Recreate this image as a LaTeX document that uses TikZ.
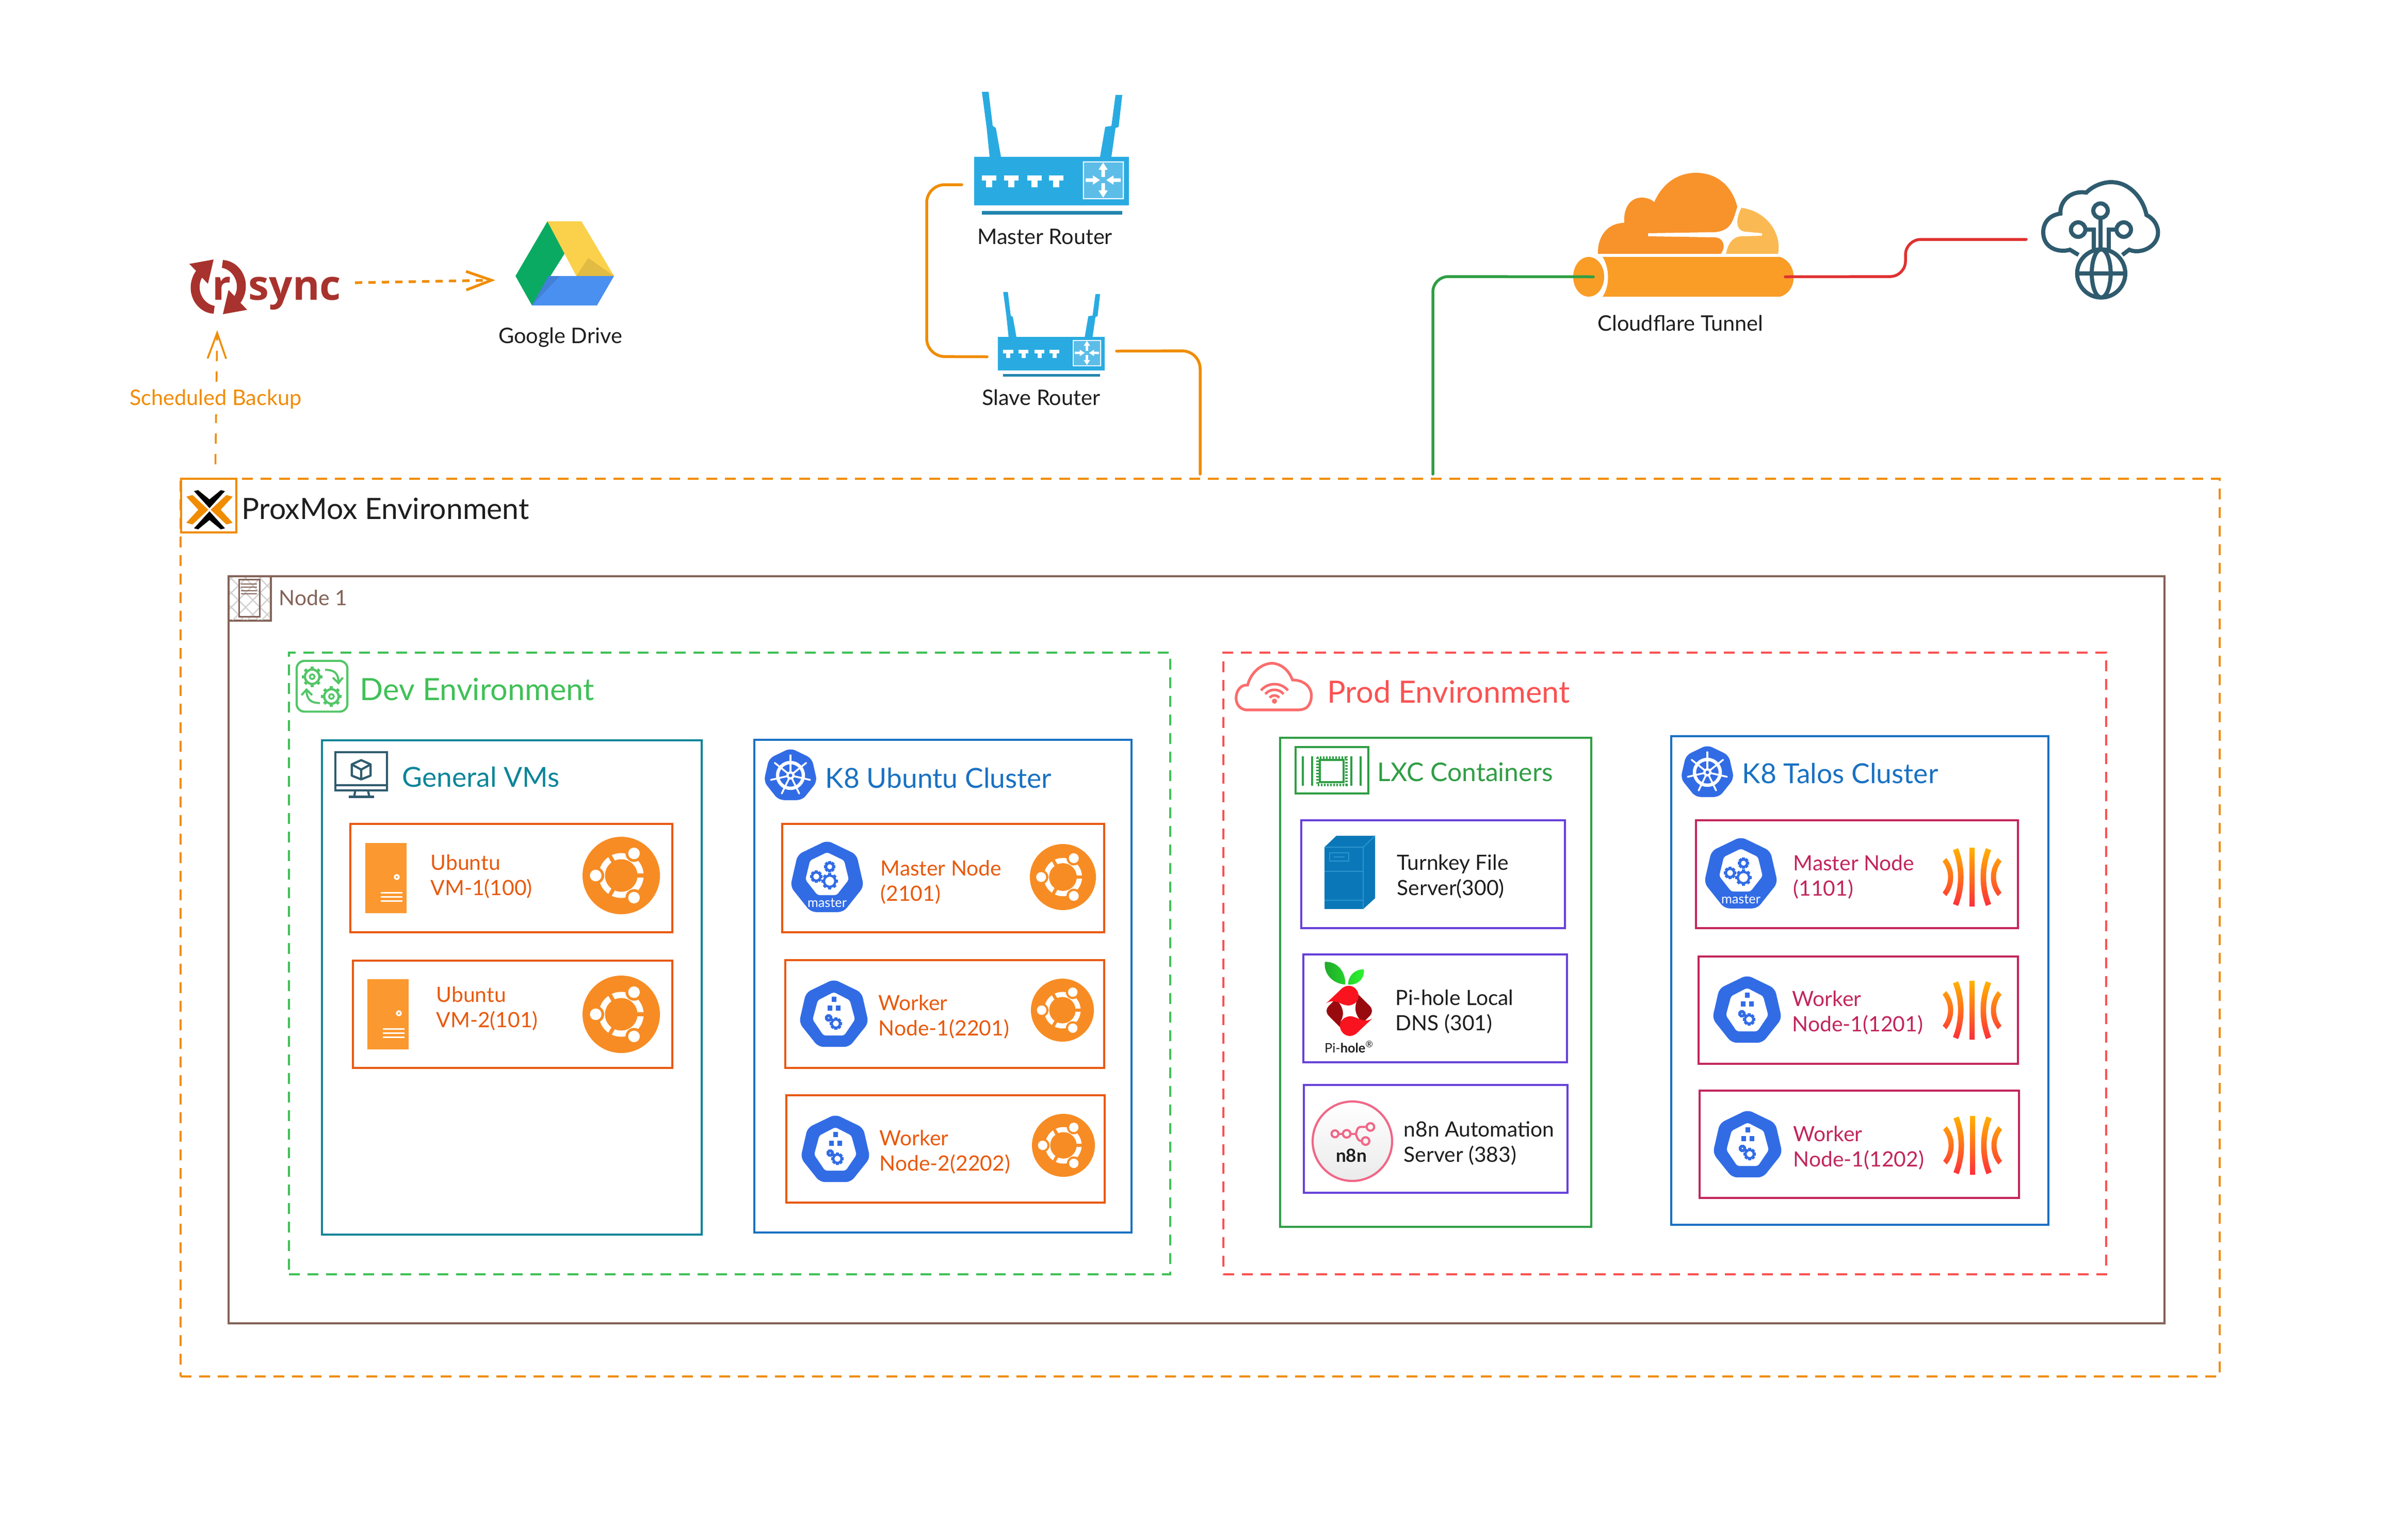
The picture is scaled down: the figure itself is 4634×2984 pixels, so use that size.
\documentclass[tikz,border=0pt]{standalone}
\usepackage{fontspec}
\setmainfont{Lato}
\newfontfamily\logofont{Open Sans}
\usetikzlibrary{arrows.meta,fit}

\definecolor{pveorange}{HTML}{F08C00}
\definecolor{nodebrown}{HTML}{846358}
\definecolor{devgreen}{HTML}{40C057}
\definecolor{prodred}{HTML}{FA5252}
\definecolor{vmteal}{HTML}{0C8599}
\definecolor{k8line}{HTML}{1971C2}
\definecolor{lxcgreen}{HTML}{2F9E44}
\definecolor{ubuline}{HTML}{E8590C}
\definecolor{lxcviolet}{HTML}{6741D9}
\definecolor{talospink}{HTML}{C2255C}
\definecolor{wirered}{HTML}{E03131}
\definecolor{inktext}{HTML}{1E1E1E}
\definecolor{ubuorange}{HTML}{F78C24}
\definecolor{serverorange}{HTML}{FB982F}
\definecolor{k8blue}{HTML}{326CE5}
\definecolor{routerblue}{HTML}{29ABE2}
\definecolor{routerdark}{HTML}{2185AE}
\definecolor{routerlight}{HTML}{5CBDE8}
\definecolor{slateicon}{HTML}{2F5B6E}
\definecolor{rsyncred}{HTML}{A8322D}
\definecolor{cloudorange}{HTML}{F8922B}
\definecolor{cloudlight}{HTML}{FBB954}
\definecolor{n8npink}{HTML}{F06787}
\definecolor{rackblue}{HTML}{0A78B8}
\definecolor{rackside}{HTML}{2B94CF}
\definecolor{driveyellow}{HTML}{FBD14B}
\definecolor{drivegreen}{HTML}{0BAA62}
\definecolor{driveblue}{HTML}{4A90F0}
\definecolor{berryred}{HTML}{F9131F}
\definecolor{berrydark}{HTML}{990A0E}
\definecolor{leafdark}{HTML}{1FA82A}
\definecolor{leaflight}{HTML}{2BF52E}
\definecolor{talostop}{HTML}{FFB300}
\definecolor{talosbottom}{HTML}{FF2D3A}

\newcommand{\heptagon}[1]{(-90:#1) \foreach \k in {1,...,6} {-- ({-90+\k*360/7}:#1)} -- cycle}
\newcommand{\gearmark}[5]{
    \draw[#5,line width=.45mm] (#1,#2) circle (#3);
    \foreach \a in {0,45,...,315}
        \draw[#5,line width=.6mm] (#1,#2) ++(\a:#3) -- ++(\a:#4);
}

\tikzset{
    ubuntulogo/.pic={
        \fill[ubuorange] (0,0) circle (100);
        \fill[white] (0,0) circle (58);
        \fill[ubuorange] (0,0) circle (42);
        \foreach \a in {0,120,240}
            \fill[ubuorange,rotate=\a] (38,-5) rectangle (60,5);
        \foreach \a in {-60,60,180} {
            \fill[ubuorange] (\a:66) circle (22);
            \fill[white] (\a:66) circle (15);
        }
    },
    vmserver/.pic={
        \fill[serverorange] (0,0) rectangle (80,136);
        \draw[white,line width=.35mm] (61,66) circle (4);
        \foreach \y in {96,104,112}
            \draw[white,line width=.3mm] (30,\y) -- (72,\y);
    },
    k8master/.pic={
        \fill[k8blue,rounded corners=1mm] \heptagon{73};
        \fill[white,rounded corners=.4mm] (0,-50) -- (33,-34) -- (42,3) -- (18.5,33)
            -- (-18.5,33) -- (-42,3) -- (-33,-34) -- cycle;
        \gearmark{5}{6}{11}{5}{k8blue}
        \gearmark{-21}{-3}{8}{4}{k8blue}
        \gearmark{5}{-22}{7}{4}{k8blue}
        \node[text=white,font=\fontsize{7.2}{8}\selectfont,inner sep=0] (mastertag) at (0,48) {master};
    },
    k8worker/.pic={
        \fill[k8blue,rounded corners=1mm] \heptagon{69};
        \fill[white,rounded corners=.4mm] (0,-44) -- (31,-28) -- (41,9) -- (20,40)
            -- (-20,40) -- (-41,9) -- (-31,-28) -- cycle;
        \foreach \x/\y in {0/-30,-8/-13,8/-13}
            \fill[k8blue,shift={(\x,\y)}] (-4.5,-5) rectangle (4.5,5);
        \gearmark{4}{17}{8}{4}{k8blue}
        \gearmark{-10}{6}{4}{3}{k8blue}
    },
    k8wheel/.pic={
        \fill[k8blue,rounded corners=1mm] \heptagon{53};
        \draw[white,line width=.65mm] (0,0) circle (25);
        \foreach \k in {0,...,6}
            \draw[white,line width=.35mm,line cap=round] (0,0) -- ({-90+\k*360/7}:39);
        \fill[white] (0,0) circle (8);
        \fill[k8blue] (0,0) circle (3.5);
    },
    taloslogo/.pic={
        \shade[top color=talostop,bottom color=talosbottom]
            (-5,-57) rectangle (5,57)
            (-37,-52) -- (-27,-56) .. controls (-13,-20) and (-13,20) .. (-27,56)
                -- (-37,52) .. controls (-24,20) and (-24,-20) .. (-37,-52)
            (37,-52) -- (27,-56) .. controls (13,-20) and (13,20) .. (27,56)
                -- (37,52) .. controls (24,20) and (24,-20) .. (37,-52)
            (-57,-30) -- (-50,-37) .. controls (-32,-15) and (-32,15) .. (-50,37)
                -- (-57,30) .. controls (-43,12) and (-43,-12) .. (-57,-30)
            (57,-30) -- (50,-37) .. controls (32,-15) and (32,15) .. (50,37)
                -- (57,30) .. controls (43,12) and (43,-12) .. (57,-30);
    },
    routericon/.pic={
        \fill[routerblue] (15,-126) -- (28,-126) -- (36,-60) -- (42,-56) -- (52,0) -- (30,0)
            -- (24,-58) -- cycle;
        \fill[routerblue] (274,-120) -- (287,-120) -- (280,-58) -- (274,-56) -- (266,0) -- (244,0)
            -- (254,-58) -- (266,-60) -- cycle;
        \fill[routerblue] (0,0) rectangle (300,94);
        \fill[routerdark] (15,105) rectangle (287,112);
        \foreach \x in {29,72,117,159} {
            \fill[white,shift={(\x,0)}] (-14,36) rectangle (14,46);
            \fill[white,shift={(\x,0)}] (-6,46) rectangle (6,59);
        }
        \fill[routerlight] (210,8) rectangle (291,83);
        \draw[white,line width=.2mm] (212,10) rectangle (289,81);
        \foreach \a in {-90,90}
            \fill[white,shift={(250,45)},rotate=\a] (6,-3.5) -- (20,-3.5) -- (20,-9) -- (34,0)
                -- (20,9) -- (20,3.5) -- (6,3.5) -- cycle;
        \foreach \a in {0,180}
            \fill[white,shift={(250,45)},rotate=\a] (34,-3.5) -- (20,-3.5) -- (20,-9) -- (6,0)
                -- (20,9) -- (20,3.5) -- (34,3.5) -- cycle;
    },
}

\begin{document}
\begin{tikzpicture}[x=.1mm,y=-.1mm]
\tikzstyle{marker}=[inner sep=0,outer sep=0]
\tikzstyle{envbox}=[draw,inner sep=0,line width=.48mm,dash pattern=on 2.1mm off 1.5mm]
\tikzstyle{groupbox}=[draw,inner sep=0,line width=.46mm]
\tikzstyle{itembox}=[draw,inner sep=0,line width=.44mm]
\tikzstyle{caption}=[inner sep=0,text=inktext,font=\fontsize{11.8}{14}\selectfont]
\tikzstyle{envtitle}=[anchor=west,inner sep=0,font=\fontsize{16.9}{20}\selectfont]
\tikzstyle{grouptitle}=[anchor=west,inner sep=0,font=\fontsize{15.2}{18}\selectfont]
\tikzstyle{itemtext}=[anchor=west,inner sep=0,align=left,font=\fontsize{11.6}{14.1}\selectfont]
\tikzstyle{wire}=[line width=.55mm,line cap=round]

\path[use as bounding box] (0,0) rectangle (4634,2984);

% outer environment
\node [envbox,pveorange,fit={(350,928) (4302,2668)}] (proxmox) {};
\node [groupbox,nodebrown,fit={(443,1117) (4195,2565)}] (nodeone) {};
\node [envbox,devgreen,fit={(560,1265) (2268,2470)}] (devenv) {};
\node [envbox,prodred,fit={(2371,1265) (4082,2470)}] (prodenv) {};
\node [groupbox,vmteal,fit={(624,1435) (1360,2393)}] (generalvms) {};
\node [groupbox,k8line,fit={(1462,1434) (2193,2389)}] (k8ubuntu) {};
\node [groupbox,lxcgreen,fit={(2481,1430) (3084,2378)}] (lxc) {};
\node [groupbox,k8line,fit={(3239,1427) (3970,2374)}] (k8talos) {};

\node [itembox,ubuline,fit={(679,1597) (1303,1807)}] (vmone) {};
\node [itembox,ubuline,fit={(684,1862) (1303,2070)}] (vmtwo) {};
\node [itembox,ubuline,fit={(1516,1597) (2140,1807)}] (ubumaster) {};
\node [itembox,ubuline,fit={(1522,1861) (2140,2070)}] (ubuworkerone) {};
\node [itembox,ubuline,fit={(1524,2123) (2141,2331)}] (ubuworkertwo) {};
\node [itembox,lxcviolet,fit={(2522,1590) (3033,1799)}] (turnkey) {};
\node [itembox,lxcviolet,fit={(2526,1850) (3037,2059)}] (pihole) {};
\node [itembox,lxcviolet,fit={(2527,2103) (3038,2312)}] (neightn) {};
\node [itembox,talospink,fit={(3287,1590) (3911,1799)}] (talosmaster) {};
\node [itembox,talospink,fit={(3292,1854) (3911,2062)}] (talosworkerone) {};
\node [itembox,talospink,fit={(3294,2114) (3913,2322)}] (talosworkertwo) {};

% titles
\node [envtitle,text=inktext,font=\fontsize{16.2}{20}\selectfont] (pvetitle) at (468,986) {ProxMox Environment};
\node [anchor=west,inner sep=0,text=nodebrown,font=\fontsize{11.6}{14}\selectfont] (nodetitle) at (540,1159) {Node 1};
\node [envtitle,text=devgreen] (devtitle) at (697,1336) {Dev Environment};
\node [envtitle,text=prodred] (prodtitle) at (2572,1341) {Prod Environment};
\node [grouptitle,text=vmteal] (vmstitle) at (779,1506) {General VMs};
\node [grouptitle,text=k8line] (k8utitle) at (1599,1508) {K8 Ubuntu Cluster};
\node [grouptitle,text=lxcgreen,font=\fontsize{14.2}{18}\selectfont] (lxctitle) at (2669,1496) {LXC Containers};
\node [grouptitle,text=k8line] (k8ttitle) at (3376,1499) {K8 Talos Cluster};

% item texts
\node [itemtext,text=ubuline] (vmonetext) at (834,1699) {Ubuntu\\VM-1(100)};
\node [itemtext,text=ubuline] (vmtwotext) at (845,1955) {Ubuntu\\VM-2(101)};
\node [itemtext,text=ubuline] (ubumtext) at (1706,1710) {Master Node\\(2101)};
\node [itemtext,text=ubuline] (ubuwonetext) at (1702,1971) {Worker\\Node-1(2201)};
\node [itemtext,text=ubuline] (ubuwtwotext) at (1704,2233) {Worker\\Node-2(2202)};
\node [itemtext,text=inktext] (turnkeytext) at (2707,1699) {Turnkey File\\Server(300)};
\node [itemtext,text=inktext] (piholetext) at (2704,1961) {Pi-hole Local\\DNS (301)};
\node [itemtext,text=inktext] (neightntext) at (2720,2216) {n8n Automation\\Server (383)};
\node [itemtext,text=talospink] (talosmtext) at (3475,1700) {Master Node\\(1101)};
\node [itemtext,text=talospink] (taloswonetext) at (3473,1963) {Worker\\Node-1(1201)};
\node [itemtext,text=talospink] (taloswtwotext) at (3475,2225) {Worker\\Node-1(1202)};

% icons in the boxes
\pic at (708,1634) {vmserver};
\pic at (712,1898) {vmserver};
\pic [scale=.75] at (1204,1697) {ubuntulogo};
\pic [scale=.75] at (1204,1966) {ubuntulogo};
\pic [scale=.64] at (2060,1700) {ubuntulogo};
\pic [scale=.61] at (2059,1958) {ubuntulogo};
\pic [scale=.61] at (2061,2220) {ubuntulogo};
\pic at (1603,1702) {k8master};
\pic at (1616,1967) {k8worker};
\pic at (1619,2229) {k8worker};
\pic at (3374,1695) {k8master};
\pic at (3386,1959) {k8worker};
\pic at (3387,2220) {k8worker};
\pic at (3822,1700) {taloslogo};
\pic at (3822,1958) {taloslogo};
\pic at (3823,2220) {taloslogo};
\pic at (1532,1503) {k8wheel};
\pic at (3309,1497) {k8wheel};

% proxmox icon
\node [itembox,pveorange,fit={(351,928) (458,1032)}] (pveicon) {};
\fill[pveorange,line join=round,draw=pveorange,line width=.1mm,shift={(406,988)}]
    (-44,-25) -- (-33,-28) -- (-3,0) -- (-33,28) -- (-44,25) -- (-21,0) -- cycle
    (44,-25) -- (33,-28) -- (3,0) -- (33,28) -- (44,25) -- (21,0) -- cycle;
\fill[black,shift={(406,988)}]
    (-30,-36) -- (-22,-38) -- (0,-20) -- (22,-38) -- (30,-36) -- (0,-3) -- cycle
    (-30,36) -- (-22,38) -- (0,20) -- (22,38) -- (30,36) -- (0,3) -- cycle;

% node icon
\node [groupbox,nodebrown,fit={(443,1117) (525,1203)}] (nodeicon) {};
\begin{scope}
\clip (445,1119) rectangle (523,1201);
\foreach \k in {0,...,8} {
    \draw[black!18,line width=.25mm] ({390+\k*28},1119) -- ++(90,90);
    \draw[black!18,line width=.25mm] ({450+\k*28},1119) -- ++(-90,90);
}
\end{scope}
\draw[nodebrown,line width=.3mm] (463,1123) rectangle (503,1195);
\foreach \y in {1132,1138,1145,1151}
    \draw[nodebrown,line width=.25mm] (467,\y) -- (498,\y);

% dev icon
\begin{scope}[shift={(570,1270)},scale=1/3]
\draw[devgreen!90!white,line width=.42mm,rounded corners=1.5mm] (15,33) rectangle (310,328);
\gearmark{105}{125}{42}{18}{devgreen!90!white}
\gearmark{217}{240}{42}{18}{devgreen!90!white}
\draw[devgreen!90!white,line width=.35mm] (105,125) circle (14) (217,240) circle (14);
\draw[devgreen!90!white,line width=.4mm] (180,85) .. controls (230,85) and (258,100) .. (258,160);
\draw[devgreen!90!white,line width=.4mm] (225,130) -- (258,162) -- (283,130);
\draw[devgreen!90!white,line width=.4mm] (150,278) .. controls (100,278) and (72,260) .. (72,200);
\draw[devgreen!90!white,line width=.4mm] (43,232) -- (72,200) -- (105,232);
\end{scope}

% computer icon
\begin{scope}[shift={(570,1270)},scale=1/3]
\draw[slateicon,line width=.42mm] (240,565) rectangle (540,785);
\draw[slateicon,line width=.42mm] (240,755) -- (540,755);
\draw[slateicon,line width=.42mm] (355,790) -- (350,820) (430,790) -- (437,820);
\draw[slateicon,line width=.5mm] (318,824) -- (465,824);
\draw[slateicon,line width=.42mm,line join=round] (390,610) -- (445,635) -- (445,700) -- (390,722)
    -- (335,700) -- (335,635) -- cycle (335,635) -- (390,665) -- (445,635) (390,665) -- (390,722);
\end{scope}

% prod icon
\draw[prodred!85!white,line width=.52mm] (2415,1376) .. controls (2385,1372) and (2393,1325) .. (2418,1328)
    .. controls (2425,1300) and (2450,1283) .. (2470,1286)
    .. controls (2490,1290) and (2500,1305) .. (2505,1318)
    .. controls (2530,1318) and (2545,1335) .. (2541,1355)
    .. controls (2538,1370) and (2530,1376) .. (2515,1376) -- cycle;
\foreach \r in {12,23,34}
    \draw[prodred!85!white,line width=.5mm,shift={(2470,1360)}] (-140:\r) arc (-140:-40:\r);
\fill[prodred!85!white] (2470,1359) circle (5);

% lxc icon
\node [groupbox,lxcgreen,fit={(2511,1448) (2652,1538)}] (lxcicon) {};
\foreach \x in {2525,2543,2619,2637}
    \draw[lxcgreen,line width=.4mm] (\x,1466) -- (\x,1523);
\draw[lxcgreen,line width=.4mm] (2558,1473) rectangle (2604,1516);
\draw[lxcgreen,line width=.5mm,dash pattern=on .3mm off .3mm] (2553,1468) rectangle (2609,1521);

% file server icon
\fill[rackblue] (2567,1642) -- (2590,1620) -- (2665,1620) -- (2642,1642) -- cycle;
\fill[rackblue] (2642,1642) -- (2665,1620) -- (2665,1741) -- (2642,1762) -- cycle;
\fill[rackblue] (2567,1642) rectangle (2642,1762);
\draw[rackside,line width=.2mm] (2567,1642) -- (2642,1642) -- (2665,1620) (2642,1642) -- (2642,1762);
\draw[rackside,line width=.2mm] (2567,1689) -- (2642,1689) (2567,1745) -- (2642,1745);
\draw[rackside,line width=.2mm] (2577,1653) rectangle (2614,1669);
\draw[rackside,line width=.2mm] (2585,1661) -- (2606,1661);

% pi-hole icon
\begin{scope}[shift={(2530,1855)},scale=1/3]
\shade[left color=leafdark,right color=leaflight]
    (113,28) .. controls (190,25) and (235,90) .. (232,160) .. controls (160,155) and (105,100) .. (113,28)
    (340,72) .. controls (345,130) and (300,165) .. (248,160) .. controls (250,105) and (290,70) .. (340,72);
\fill[berrydark,rounded corners=1.3mm] (255,165) -- (403,313) -- (255,462) -- (107,313) -- cycle;
\fill[white] (190,258) .. controls (220,285) and (250,285) .. (300,250)
    .. controls (285,290) and (285,330) .. (320,368)
    .. controls (280,345) and (240,345) .. (205,375)
    .. controls (225,340) and (225,300) .. (190,258);
\fill[berryred] (120,270) -- (215,180) .. controls (250,155) and (285,170) .. (300,195)
    .. controls (320,225) and (310,275) .. (250,282) .. controls (215,280) and (195,258) .. (160,257)
    .. controls (145,257) and (130,262) .. (120,270);
\fill[berryred] (390,356) -- (295,446) .. controls (260,471) and (225,456) .. (210,431)
    .. controls (190,401) and (200,351) .. (260,344) .. controls (295,346) and (315,368) .. (350,369)
    .. controls (365,369) and (380,364) .. (390,356);
\end{scope}
\node [inner sep=0,text=inktext,font=\fontsize{7.2}{8}\selectfont] (piholemark) at (2615,2029) {Pi-\textbf{hole}\textsuperscript{®}};

% n8n icon
\draw[n8npink,line width=.42mm,top color=white,bottom color=black!8] (2621,2212) circle (77);
\begin{scope}[shift={(2530,2120)},scale=1/3]
\draw[n8npink,line width=.42mm] (172,233) circle (20) (240,233) circle (22) (378,193) circle (22) (350,275) circle (22);
\draw[n8npink,line width=.42mm] (192,233) -- (218,233) (262,233) -- (290,233);
\draw[n8npink,line width=.42mm] (356,193) -- (322,193) .. controls (295,193) and (300,233) .. (290,233);
\draw[n8npink,line width=.42mm] (290,233) .. controls (300,233) and (295,275) .. (328,275);
\end{scope}
\node [inner sep=0,text=inktext,font=\fontsize{10}{12}\selectfont\bfseries] (neightnmark) at (2619,2240) {n8n};

% rsync
\foreach \a in {0,180}
    \fill[rsyncred,shift={(423,556)},rotate=\a] (-9,-53) -- (-20,-6) -- (-31.5,-18)
        .. controls (-44,5) and (-30,33) .. (-7,37) -- (-9,52)
        .. controls (-45,50) and (-68,5) .. (-43,-31) -- (-56,-44.5) -- cycle;
\node [anchor=base west,inner sep=0,text=rsyncred,font=\logofont\fontsize{22.8}{24}\selectfont\bfseries] (rsyncr) at (411,581) {r};
\node [anchor=base west,inner sep=0,text=rsyncred,font=\logofont\fontsize{22.8}{24}\selectfont\bfseries] (rsynctext) at (481,581) {sync};
\node [marker,fit={(367,503) (475,608)}] (rsynclogo) {};
\node [marker,fit={(367,503) (688,593)}] (rsync) {};

% google drive
\fill[drivegreen] (1061,429) -- (1097,487) -- (1031,592) -- (999,535) -- cycle;
\fill[driveyellow] (1061,429) -- (1127,429) -- (1190,535) -- (1117,535) -- cycle;
\fill[driveblue] (1063,535) -- (1190,535) -- (1157,592) -- (1031,592) -- cycle;
\fill[black,opacity=.1] (1063,535) -- (1085,535) -- (1031,592) -- cycle;
\fill[black,opacity=.1] (1117,535) -- (1190,535) -- (1140,500) -- cycle;
\node [marker,fit={(960,429) (1190,657)}] (gdrive) {};
\node [caption] (gdrivetext) at (1086,654) {Google Drive};

% routers
\pic at (1888,304) {routericon};
\pic [scale=.69] at (1934,653) {routericon};
\node [marker,fit={(1864,304) (2188,412)}] (masterrouter) {};
\node [marker,fit={(1913,653) (2164,730)}] (slaverouter) {};
\node [caption] (mastertext) at (2025,459) {Master Router};
\node [caption] (slavetext) at (2018,770) {Slave Router};

% cloudflare
\fill[cloudorange] (3097,492) .. controls (3096,455) and (3118,432) .. (3148,432)
    .. controls (3146,405) and (3158,383) .. (3182,383)
    .. controls (3193,383) and (3203,388) .. (3206,392)
    .. controls (3222,355) and (3252,335) .. (3287,335)
    .. controls (3327,335) and (3357,360) .. (3367,401)
    .. controls (3359,425) and (3357,448) .. (3322,450)
    -- (3194,452) -- (3194,458) -- (3322,460)
    .. controls (3342,460) and (3345,480) .. (3335,492) -- cycle;
\fill[cloudlight] (3375,403) .. controls (3421,408) and (3454,450) .. (3446,492)
    -- (3345,492) .. controls (3349,475) and (3355,460) .. (3374,458)
    -- (3415,457) -- (3415,452) -- (3381,449)
    .. controls (3361,445) and (3366,420) .. (3375,403) -- cycle;
\fill[cloudorange!90!yellow] (3079,536.5) ellipse (30 and 38.5);
\fill[cloudorange!90!yellow] (3106,498) .. controls (3120,520) and (3120,555) .. (3106,575)
    -- (3450,575) .. controls (3485,565) and (3485,510) .. (3450,498) -- cycle;
\node [marker,fit={(3088,498) (3460,575)}] (tunnel) {};
\node [caption] (tunneltext) at (3257,626) {Cloudflare Tunnel};

% internet icon
\begin{scope}[shift={(3950,340)},scale=1/3]
\draw[slateicon,line width=.8mm] (235,462) -- (185,432) .. controls (130,450) and (30,430) .. (30,330)
    .. controls (30,270) and (70,230) .. (130,222) .. controls (125,150) and (190,85) .. (280,100)
    .. controls (330,50) and (400,35) .. (440,40) .. controls (530,45) and (610,130) .. (630,230)
    .. controls (670,250) and (700,290) .. (697,340) .. controls (690,420) and (590,460) .. (530,432)
    -- (490,462);
\draw[slateicon,line width=.8mm] (363,205) circle (42) (233,315) circle (42) (498,315) circle (42);
\draw[slateicon,line width=.8mm] (363,247) -- (363,430) (275,315) -- (323,315) -- (323,430)
    (455,315) -- (412,315) -- (412,430);
\draw[slateicon,line width=.8mm] (367,570) circle (140) (225,570) -- (505,570) (367,570) ellipse (55 and 140);
\end{scope}
\node [marker,fit={(3927,350) (4192,578)}] (internet) {};

% connectors
\coordinate (lanin) at (2326,919);
\coordinate (tunnelin) at (2777,919);
\draw[wire,pveorange,rounded corners=3.5mm] (masterrouter.west) -- (1796,358) -- (1796,691) -- (slaverouter.west);
\draw[wire,pveorange,rounded corners=3.5mm] ([yshift=1.1mm]slaverouter.east) -- (2326,680) -- (lanin);
\draw[wire,lxcgreen,rounded corners=3mm] (tunnel.west) -- (2777,536) -- (tunnelin);
\draw[wire,wirered,rounded corners=3mm] (tunnel.east) -- (3693,536) -- (3693,464) -- (internet.west);
\draw[pveorange,line width=.52mm,dash pattern=on 1.4mm off 1.2mm,-{Straight Barb[length=4.9mm,width=3.6mm]}] (rsync.east) -- (gdrive.west);
\draw[pveorange,line width=.35mm,dash pattern=on 2mm off 2mm,-{Straight Barb[length=5mm,width=3.6mm]}] ([xshift=1.3mm,yshift=2.6mm]pveicon.north) -- ([yshift=-3.2mm]rsynclogo.south);
\node [fill=white,inner sep=1mm,text=pveorange,font=\fontsize{11.8}{14}\selectfont] (backuptext) at (418,774) {Scheduled Backup};

\end{tikzpicture}
\end{document}
